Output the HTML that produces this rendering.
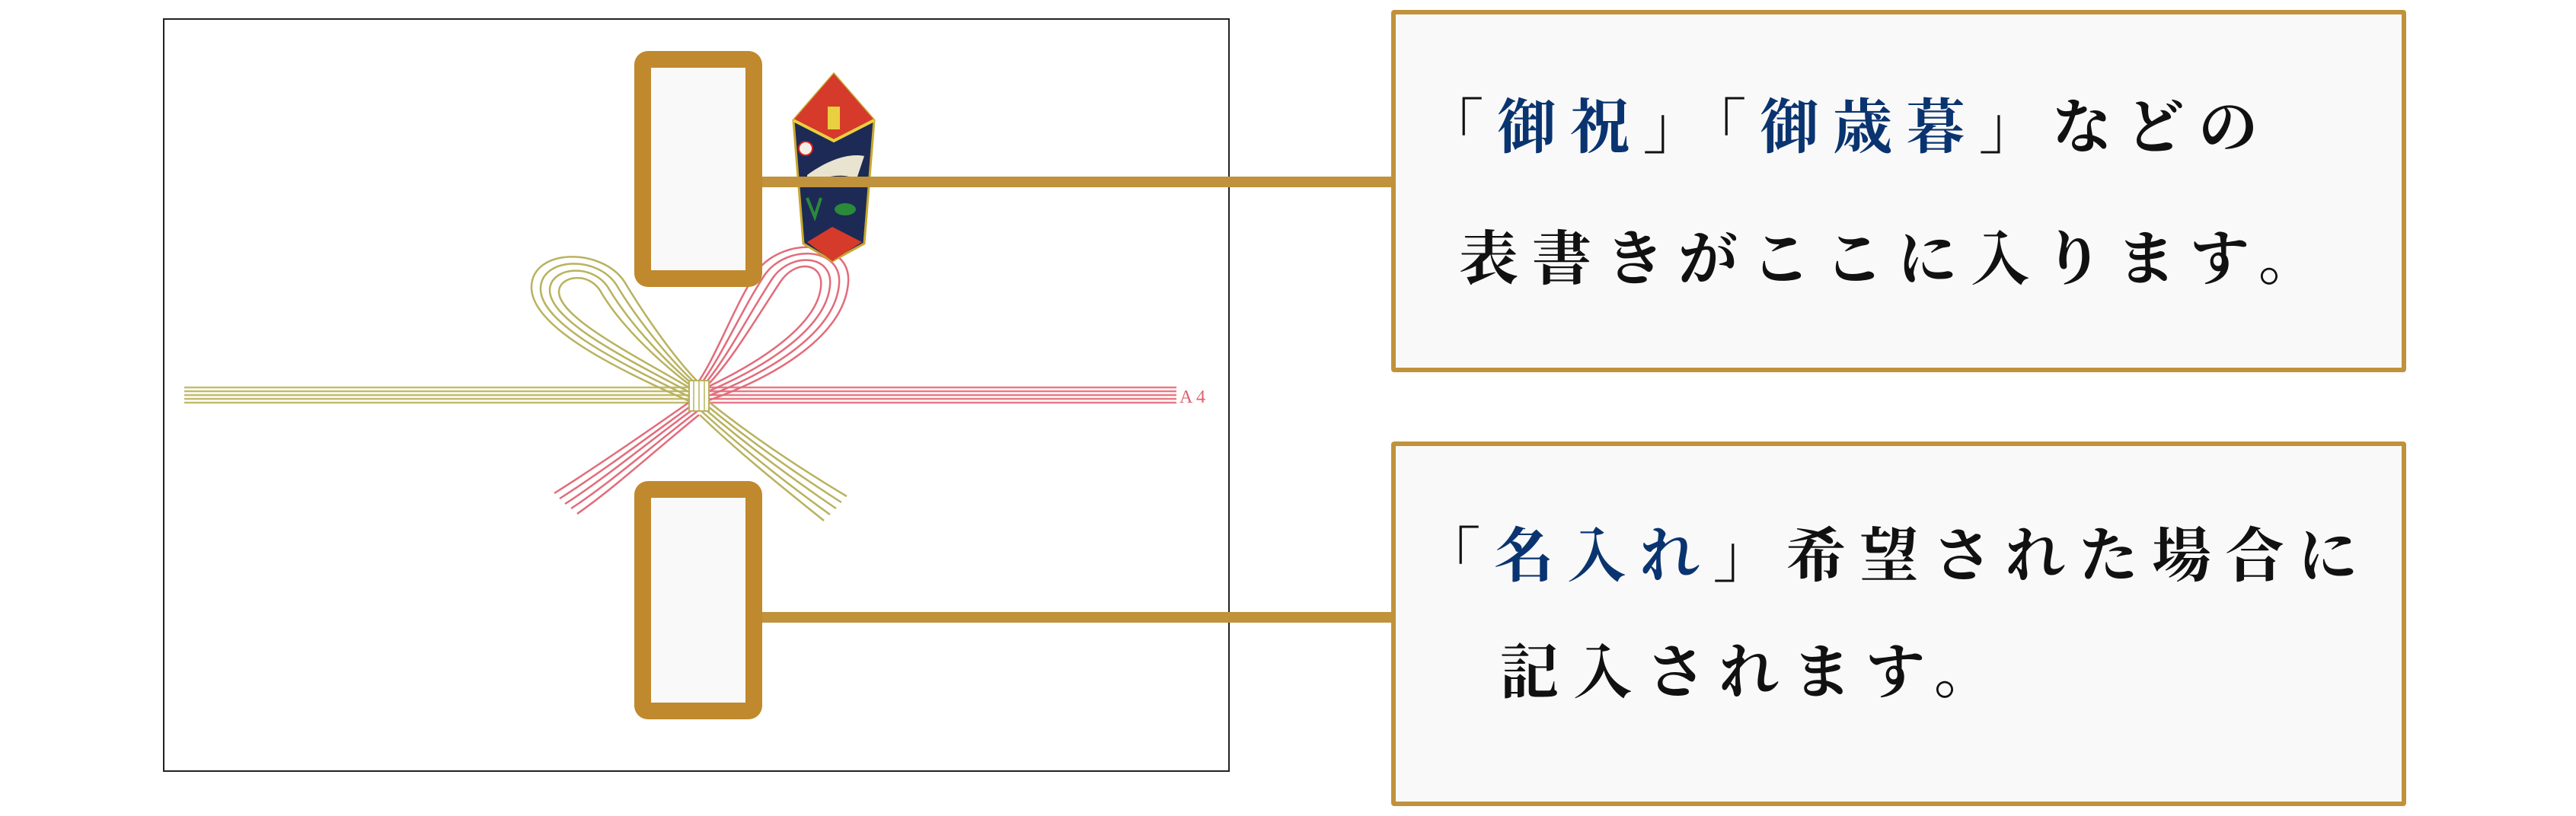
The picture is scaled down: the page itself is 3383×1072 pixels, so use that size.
<!DOCTYPE html>
<html><head><meta charset="utf-8">
<style>
html,body{margin:0;padding:0;background:#fff;}
body{width:3383px;height:1072px;position:relative;overflow:hidden;}
.env{position:absolute;left:214px;top:24px;width:1397px;height:986px;border:2px solid #222;background:#fff;}
.lab{position:absolute;left:833px;width:124px;border:22px solid #c0892d;border-radius:18px;background:#f9f9f9;}
.con{position:absolute;background:#c0923c;height:14px;}
.box{position:absolute;left:1827px;width:1321px;border:6px solid #c0923c;border-radius:4px;background:#f9f9f9;}
.t{position:absolute;font-family:"Liberation Serif","Noto Serif CJK JP","Noto Serif CJK SC",serif;font-weight:bold;font-size:78px;line-height:112px;color:#111;white-space:nowrap;letter-spacing:18px;}
.b{color:#0a3470;}
svg{position:absolute;left:0;top:0;}
</style></head><body>
<div class="env"></div>
<svg width="3383" height="1072">
 <g fill="none" stroke-width="2.5">
  <g stroke="#c2bb6c">
   <line x1="242" y1="509" x2="905" y2="509"/><line x1="242" y1="514" x2="905" y2="514"/><line x1="242" y1="519" x2="905" y2="519"/><line x1="242" y1="524" x2="905" y2="524"/><line x1="242" y1="529" x2="905" y2="529"/>
  </g>
  <g stroke="#e87a86">
   <line x1="930" y1="509" x2="1545" y2="509"/><line x1="930" y1="514" x2="1545" y2="514"/><line x1="930" y1="519" x2="1545" y2="519"/><line x1="930" y1="524" x2="1545" y2="524"/><line x1="930" y1="529" x2="1545" y2="529"/>
  </g>
  <g stroke="#b9b25e">
   <path d="M905 515 C820 470 720 420 722 380 C724 350 780 345 800 380 C830 430 880 480 910 505"/>
   <path d="M905 521 C812 476 708 424 710 378 C712 338 785 335 810 375 C840 425 885 478 915 505"/>
   <path d="M905 527 C804 482 696 428 698 376 C700 326 790 325 820 370 C850 420 890 476 920 505"/>
   <path d="M905 509 C828 464 732 416 734 382 C736 362 775 356 790 385 C820 435 875 482 905 505"/>
  </g>
  <g stroke="#e26c7a">
   <path d="M928 515 C1010 480 1085 430 1090 375 C1094 335 1040 330 1015 365 C985 410 955 470 925 505"/>
   <path d="M928 521 C1018 486 1097 434 1102 373 C1106 325 1035 320 1005 360 C975 405 948 468 920 505"/>
   <path d="M928 527 C1026 492 1109 438 1114 371 C1118 315 1030 310 995 355 C965 400 942 466 915 505"/>
   <path d="M928 509 C1002 474 1073 426 1078 377 C1082 345 1045 340 1025 370 C995 415 962 472 930 505"/>
  </g>
  <g stroke="#e26c7a">
   <path d="M912 530 C850 575 790 620 735 655"/><path d="M914 535 C852 580 795 628 742 662"/><path d="M916 540 C856 586 802 634 750 668"/><path d="M918 545 C860 592 808 640 758 675"/><path d="M910 525 C846 570 785 612 728 648"/>
  </g>
  <g stroke="#b9b25e">
   <path d="M925 530 C985 580 1050 625 1105 660"/><path d="M923 535 C982 586 1045 632 1098 668"/><path d="M921 540 C978 592 1040 640 1090 676"/><path d="M919 545 C974 598 1035 646 1082 684"/><path d="M927 525 C988 574 1055 618 1112 652"/>
  </g>
 </g>
 <rect x="905" y="500" width="26" height="40" fill="#fff" stroke="#b9b25e" stroke-width="2"/>
 <g stroke="#b9b25e" stroke-width="1.5"><line x1="911" y1="500" x2="911" y2="540"/><line x1="918" y1="500" x2="918" y2="540"/><line x1="925" y1="500" x2="925" y2="540"/></g>
 <text x="1549" y="529" font-family="Liberation Serif,serif" font-size="24" fill="#e06070">A 4</text>
 <polygon points="1095,97 1148,158 1135,320 1093,343 1055,320 1042,158" fill="#1d2a55" stroke="#c8a830" stroke-width="3"/>
 <polygon points="1095,97 1148,158 1095,185 1042,158" fill="#d63a2a"/>
 <polyline points="1042,158 1095,185 1148,158" fill="none" stroke="#e8d040" stroke-width="4"/>
 <polygon points="1060,318 1093,298 1132,318 1093,343" fill="#d63a2a"/>
 <rect x="1087" y="140" width="16" height="30" fill="#e8d040"/>
 <path d="M1060 230 C1080 215 1110 200 1135 205 L1125 235 C1100 225 1080 235 1060 240Z" fill="#e8e4d0"/>
 <circle cx="1058" cy="195" r="9" fill="#f4f0e8" stroke="#d02020" stroke-width="2"/>
 <ellipse cx="1110" cy="275" rx="14" ry="8" fill="#2a8a3a"/>
 <path d="M1060 260 l10 25 l8-25" stroke="#2a8a3a" stroke-width="4" fill="none"/>
</svg>
<div class="lab" style="top:67px;height:266px;"></div>
<div class="lab" style="top:632px;height:269px;"></div>
<div class="con" style="left:1001px;top:232px;width:830px;"></div>
<div class="con" style="left:1001px;top:804px;width:830px;"></div>
<div class="box" style="top:13px;height:464px;"></div>
<div class="box" style="top:580px;height:467px;"></div>
<div class="t" style="left:1870px;top:112px;">「<span class="b">御祝</span>」「<span class="b">御歳暮</span>」などの</div>
<div class="t" style="left:1916px;top:285px;">表書きがここに入ります。</div>
<div class="t" style="left:1866px;top:675px;">「<span class="b">名入れ</span>」希望された場合に</div>
<div class="t" style="left:1970px;top:828px;">記入されます。</div>
</body></html>
